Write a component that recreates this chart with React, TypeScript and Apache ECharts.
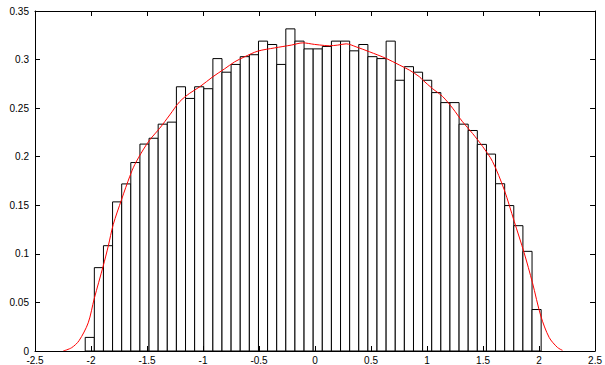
import React, { useEffect, useRef } from "react";
import * as echarts from "echarts";

// Histogram: 50 equal bins
const binStart = -2.0517;
const binWidth = 0.08141;
const binHeights = [
  0.014, 0.0858, 0.1084, 0.1535, 0.172, 0.194, 0.213, 0.219, 0.2335, 0.2356,
  0.272, 0.26, 0.272, 0.27, 0.301, 0.287, 0.295, 0.303, 0.305, 0.319,
  0.3155, 0.295, 0.3316, 0.319, 0.311, 0.311, 0.3135, 0.319, 0.319, 0.309,
  0.3155, 0.303, 0.301, 0.319, 0.2787, 0.2927, 0.287, 0.2787, 0.266, 0.2557,
  0.2557, 0.2335, 0.227, 0.2127, 0.2027, 0.1722, 0.1497, 0.129, 0.1026, 0.0427,
];

// Density curve (x, density)
const curveX = [
  -2.248, -2.173, -2.107, -2.025, -1.971, -1.891, -1.846, -1.802, -1.727, -1.653,
  -1.609, -1.535, -1.475, -1.386, -1.297, -1.208, -1.119, -1.029, -0.911, -0.807,
  -0.717, -0.628, -0.51, -0.361, -0.212, -0.109, -0.004, 0.085, 0.129, 0.203,
  0.278, 0.367, 0.486, 0.635, 0.753, 0.842, 0.931, 0.961, 1.05, 1.139,
  1.228, 1.317, 1.406, 1.496, 1.585, 1.689, 1.778, 1.867, 1.941, 2.016,
  2.09, 2.164, 2.209,
];
const curveY = [
  0, 0.0034, 0.0106, 0.029, 0.054, 0.0875, 0.108, 0.13, 0.156, 0.18,
  0.192, 0.207, 0.2174, 0.2294, 0.243, 0.2567, 0.2653, 0.272, 0.2824, 0.2905,
  0.2977, 0.3029, 0.3087, 0.312, 0.3149, 0.3172, 0.3156, 0.3145, 0.3142, 0.3149,
  0.3162, 0.3131, 0.308, 0.3012, 0.2944, 0.2892, 0.2824, 0.279, 0.27, 0.262,
  0.25, 0.236, 0.224, 0.2106, 0.195, 0.166, 0.1336, 0.101, 0.0704, 0.036,
  0.014, 0.0037, 0.0007,
];

const xMin = -2.5;
const xMax = 2.5;
const xStep = 0.5;
const yMin = 0;
const yMax = 0.35;
const yStep = 0.05;

export default function App() {
  const ref = useRef<HTMLDivElement>(null);
  useEffect(() => {
    if (!ref.current) return;
    const chart = echarts.init(ref.current, null, { renderer: "svg" });
    const bins = binHeights.map((h, k) => [
      binStart + k * binWidth,
      binStart + (k + 1) * binWidth,
      h,
    ]);
    const curve = curveX.map((x, i) => [x, curveY[i]]);
    const font = { fontFamily: "Liberation Sans", fontSize: 10, color: "#000" };
    const tick = { show: true, inside: true, length: 5, lineStyle: { color: "#000", width: 1 } };
    const line = { show: true, onZero: false, lineStyle: { color: "#000", width: 1 } };
    chart.setOption({
      animation: false,
      backgroundColor: "#fff",
      grid: { left: 35, right: 9, top: 11, bottom: 13 },
      xAxis: [
        {
          type: "value", min: xMin, max: xMax, interval: xStep, position: "bottom", z: 10,
          axisLine: line, axisTick: tick, splitLine: { show: false },
          axisLabel: { ...font, margin: 4, formatter: (v: number) => String(+v.toFixed(1)) },
        },
        {
          type: "value", min: xMin, max: xMax, interval: xStep, position: "top", z: 10,
          axisLine: line, axisTick: tick, splitLine: { show: false }, axisLabel: { show: false },
        },
      ],
      yAxis: [
        {
          type: "value", min: yMin, max: yMax, interval: yStep, position: "left", z: 10,
          axisLine: line, axisTick: tick, splitLine: { show: false },
          axisLabel: { ...font, margin: 6, formatter: (v: number) => String(+v.toFixed(2)) },
        },
        {
          type: "value", min: yMin, max: yMax, interval: yStep, position: "right", z: 10,
          axisLine: line, axisTick: tick, splitLine: { show: false }, axisLabel: { show: false },
        },
      ],
      series: [
        {
          type: "custom",
          xAxisIndex: 0,
          yAxisIndex: 0,
          data: bins,
          encode: { x: [0, 1], y: 2 },
          renderItem: (params: any, api: any) => {
            const p0 = api.coord([api.value(0), api.value(2)]);
            const p1 = api.coord([api.value(1), 0]);
            return {
              type: "rect",
              shape: { x: p0[0], y: p0[1], width: p1[0] - p0[0], height: p1[1] - p0[1] },
              style: { fill: "#fff", stroke: "#000", lineWidth: 1 },
            };
          },
          z: 2,
        },
        {
          type: "line",
          xAxisIndex: 0,
          yAxisIndex: 0,
          data: curve,
          smooth: 0.3,
          showSymbol: false,
          lineStyle: { color: "#ff0000", width: 1 },
          z: 3,
        },
      ],
    });
    return () => chart.dispose();
  }, []);
  return (
    <div
      ref={ref}
      style={{ position: "absolute", left: 0, top: 0, width: 605, height: 365, background: "#fff" }}
    />
  );
}
